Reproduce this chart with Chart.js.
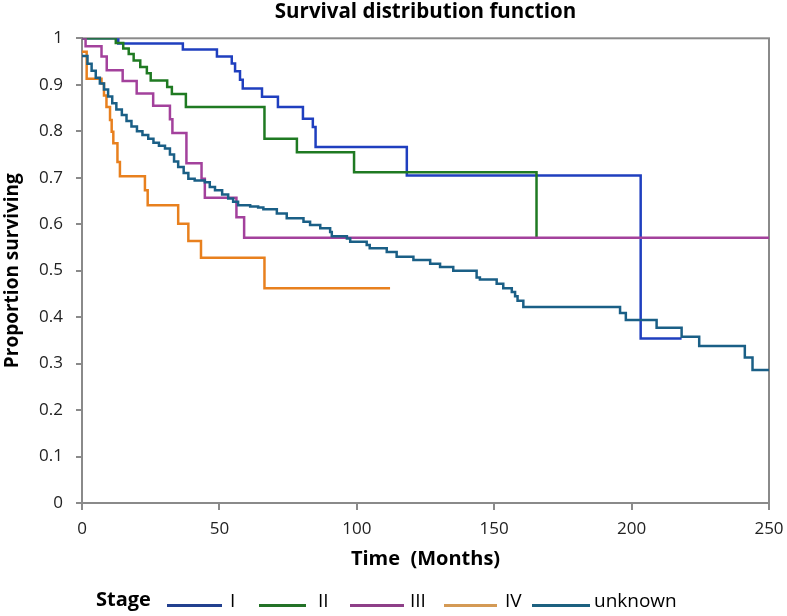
<!DOCTYPE html>
<html>
<head>
<meta charset="utf-8">
<script src="https://cdn.jsdelivr.net/npm/chart.js@4.4.1/dist/chart.umd.min.js"></script>
<style>
  html, body { margin: 0; padding: 0; background: #fff; }
  #wrap { position: relative; width: 787px; height: 616px; font-family: "Open Sans", Lato, sans-serif; }
  #c { position: absolute; left: 0; top: 0; }
  .lg { position: absolute; top: 588px; font-size: 19px; color: #000; line-height: 24px; white-space: nowrap; }
  .lg.b { font-weight: bold; font-size: 20px; top: 587px; }
  .ln { position: absolute; top: 604px; height: 3px; }
</style>
</head>
<body>
<div id="wrap">
  <canvas id="c" width="787" height="616"></canvas>
  <div id="legend"></div>
</div>
<script>
// ---- data ----
const seriesNames = ['I', 'II', 'III', 'IV', 'unknown'];
const seriesColors = ['#1f3fbf', '#1f7a22', '#a3419c', '#e8801e', '#1a5f86'];
const legendColors = ['#22408f', '#237227', '#8e3f88', '#d49a55', '#1d6180'];

const stageITime = [0, 13.2, 36.7, 49.1, 54.5, 55.7, 57.5, 58.5, 65.5, 71.3, 80.4, 84.0, 85.0, 118.2, 203.3, 218.2];
const stageISurv = [1, 0.989, 0.976, 0.961, 0.946, 0.929, 0.911, 0.892, 0.874, 0.852, 0.827, 0.809, 0.766, 0.705, 0.354, 0.354];

const stageIITime = [0, 12.3, 15.0, 17.0, 18.8, 21.2, 23.6, 25.0, 31.0, 32.7, 37.8, 66.4, 78.2, 99.0, 165.4];
const stageIISurv = [1, 0.990, 0.978, 0.966, 0.952, 0.938, 0.925, 0.909, 0.895, 0.880, 0.852, 0.784, 0.755, 0.712, 0.571];

const stageIIITime = [0, 1.3, 7.1, 9.0, 14.8, 19.9, 25.9, 32.0, 32.9, 38.0, 43.5, 44.7, 56.2, 59.0, 250];
const stageIIISurv = [1, 0.983, 0.961, 0.931, 0.908, 0.881, 0.855, 0.826, 0.796, 0.731, 0.698, 0.657, 0.615, 0.571, 0.571];

const stageIVTime = [0, 1.7, 7.1, 8.0, 8.9, 10.2, 10.8, 11.4, 12.9, 13.8, 22.9, 23.9, 35.0, 38.7, 43.3, 66.4, 112.1];
const stageIVSurv = [0.971, 0.913, 0.903, 0.877, 0.852, 0.824, 0.799, 0.774, 0.734, 0.703, 0.673, 0.641, 0.601, 0.564, 0.528, 0.462, 0.462];

const unknownTime = [0, 2, 3.5, 5, 6.5, 8, 9.5, 11, 12.5, 14.5, 16.2, 18, 20, 22, 24.1, 26, 28, 30.2, 32, 33.5, 35, 37, 38.7, 41, 44.7, 46.5, 48.4, 51, 53.2, 55, 56.8, 61.2, 64.1, 66, 70.9, 74.5, 80.6, 83, 86.7, 90.3, 90.9, 96.4, 97.6, 103.6, 104.7, 110.9, 114.5, 120.6, 126.7, 130.3, 135.1, 143.6, 144.8, 150.9, 153.3, 156.4, 157.6, 158.5, 160.6, 195.8, 197.9, 209.1, 218.2, 224.6, 241.2, 244.0, 250];
const unknownSurv = [0.962, 0.945, 0.93, 0.915, 0.903, 0.89, 0.875, 0.86, 0.847, 0.835, 0.822, 0.81, 0.80, 0.792, 0.784, 0.775, 0.769, 0.763, 0.75, 0.735, 0.723, 0.71, 0.698, 0.694, 0.690, 0.68, 0.673, 0.664, 0.655, 0.648, 0.641, 0.638, 0.636, 0.632, 0.623, 0.613, 0.605, 0.598, 0.591, 0.583, 0.574, 0.569, 0.562, 0.555, 0.548, 0.540, 0.530, 0.523, 0.515, 0.508, 0.500, 0.485, 0.481, 0.472, 0.462, 0.454, 0.445, 0.435, 0.422, 0.409, 0.394, 0.377, 0.358, 0.338, 0.313, 0.286, 0.286];

const xTickValues = [0, 50, 100, 150, 200, 250];
const yTickValues = [0, 0.1, 0.2, 0.3, 0.4, 0.5, 0.6, 0.7, 0.8, 0.9, 1];
const yTickLabels = ['0', '0.1', '0.2', '0.3', '0.4', '0.5', '0.6', '0.7', '0.8', '0.9', '1'];

const allTimes = [stageITime, stageIITime, stageIIITime, stageIVTime, unknownTime];
const allSurv = [stageISurv, stageIISurv, stageIIISurv, stageIVSurv, unknownSurv];
const drawOrder = [4, 3, 2, 1, 0]; // lower = drawn later (on top)

// ---- chart ----
const FONT = '"Open Sans", Lato, sans-serif';
const AXIS = '#8a8a8a';

const datasets = seriesNames.map((name, i) => ({
  label: name,
  data: allTimes[i].map((t, k) => ({ x: t, y: allSurv[i][k] })),
  borderColor: seriesColors[i],
  backgroundColor: seriesColors[i],
  borderWidth: 2.5,
  pointRadius: 0,
  stepped: true,
  fill: false,
  order: drawOrder[i]
}));

const frame = {
  id: 'frame',
  beforeDatasetsDraw(chart) {
    const { ctx, chartArea: a } = chart;
    ctx.save();
    ctx.strokeStyle = AXIS;
    ctx.lineWidth = 2;
    ctx.strokeRect(a.left, a.top, a.right - a.left, a.bottom - a.top);
    ctx.restore();
  }
};

new Chart(document.getElementById('c'), {
  type: 'line',
  data: { datasets },
  plugins: [frame],
  options: {
    responsive: false,
    animation: false,
    layout: { padding: { left: 0, right: 18, top: 0, bottom: 43 } },
    plugins: {
      legend: { display: false },
      tooltip: { enabled: false },
      title: {
        display: true,
        fullSize: false,
        text: 'Survival distribution function',
        color: '#000',
        font: { family: FONT, size: 20.5, weight: 'bold', lineHeight: 1.2 },
        padding: { top: 0, bottom: 13.7 }
      }
    },
    scales: {
      x: {
        type: 'linear',
        min: 0, max: 250,
        afterBuildTicks: s => { s.ticks = xTickValues.map(v => ({ value: v })); },
        afterFit: s => { s.height = 70; s.paddingRight = 0; s.paddingLeft = 0; },
        ticks: { color: '#222', font: { family: FONT, size: 17 }, padding: 8.5, maxRotation: 0, autoSkip: false },
        grid: { drawOnChartArea: false, drawTicks: true, tickLength: 7, color: AXIS, lineWidth: 2 },
        border: { color: AXIS, width: 2 },
        title: {
          display: true, text: 'Time  (Months)', color: '#000',
          font: { family: FONT, size: 20, weight: 'bold', lineHeight: 1.2 },
          padding: { top: 0, bottom: 2 }
        }
      },
      y: {
        type: 'linear',
        min: 0, max: 1,
        afterBuildTicks: s => { s.ticks = yTickValues.map(v => ({ value: v })); },
        afterFit: s => { s.width = 82; },
        ticks: {
          color: '#222', font: { family: FONT, size: 17 }, padding: 13, autoSkip: false,
          callback: (v, idx) => yTickLabels[idx]
        },
        grid: { drawOnChartArea: false, drawTicks: true, tickLength: 6, color: AXIS, lineWidth: 2 },
        border: { color: AXIS, width: 2 },
        title: {
          display: true, text: 'Proportion surviving', color: '#000',
          font: { family: FONT, size: 19, weight: 'bold', lineHeight: 1.2 },
          padding: { top: 1, bottom: 0 }
        }
      }
    }
  }
});

// ---- legend (HTML) ----
const legendEl = document.getElementById('legend');
const legendTitleX = 96;
const lineX = [167, 259, 350, 444, 532];
const lineW = [55, 47, 54, 53, 58];
const labelX = [230, 318, 410, 505, 594];
function addDiv(cls, style, text) {
  const d = document.createElement('div');
  d.className = cls;
  Object.assign(d.style, style);
  if (text) d.textContent = text;
  legendEl.appendChild(d);
}
addDiv('lg b', { left: legendTitleX + 'px' }, 'Stage');
seriesNames.forEach((n, i) => {
  addDiv('ln', { left: lineX[i] + 'px', width: lineW[i] + 'px', background: legendColors[i] });
  addDiv('lg', { left: labelX[i] + 'px' }, n);
});
</script>
</body>
</html>
